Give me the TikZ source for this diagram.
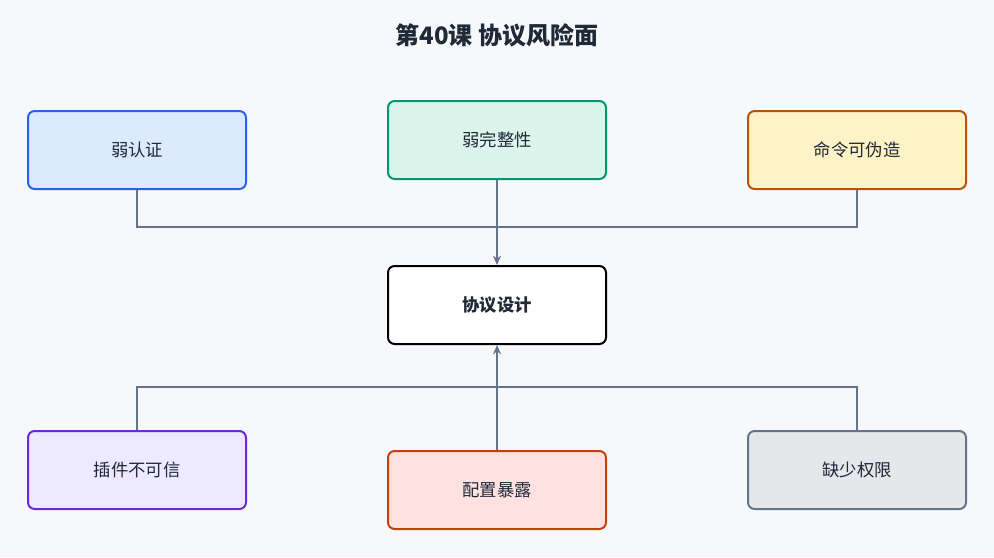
\documentclass[tikz,border=0pt]{standalone}
\usepackage{fontspec}
\setmainfont{Noto Sans CJK SC}
\usetikzlibrary{arrows.meta}
\definecolor{bgc}{HTML}{F7F8FB}
\definecolor{linec}{HTML}{64748B}
\definecolor{textc}{HTML}{1F2937}
\definecolor{blueD}{HTML}{2563EB}\definecolor{blueF}{HTML}{DBEAFE}
\definecolor{greenD}{HTML}{059669}\definecolor{greenF}{HTML}{DCF5EC}
\definecolor{orangeD}{HTML}{B45309}\definecolor{orangeF}{HTML}{FEF3C7}
\definecolor{purpleD}{HTML}{6D28D9}\definecolor{purpleF}{HTML}{EDE9FE}
\definecolor{redD}{HTML}{C2410C}\definecolor{redF}{HTML}{FEE2E2}
\definecolor{grayD}{HTML}{64748B}\definecolor{grayF}{HTML}{E5E7EB}
\tikzset{
  box/.style={draw, line width=1.5pt, rounded corners=5pt, minimum width=163.5pt, minimum height=58.5pt, font=\fontsize{13}{15}\selectfont, text=textc},
  conn/.style={draw=linec, line width=1.3pt},
}
\begin{document}
\begin{tikzpicture}[x=0.75pt,y=0.75pt,yscale=-1,xscale=1]
\fill[bgc] (0,0) rectangle (994,557);
\useasboundingbox (0,0) rectangle (994,557);

% Title
\node (title) at (497,35) {\fontsize{18}{20}\selectfont\bfseries\color{textc}第40课 协议风险面};

% Boxes
\node[box, draw=blueD, fill=blueF] (auth) at (137,150) {弱认证};
\node[box, draw=greenD, fill=greenF] (integ) at (497,140) {弱完整性};
\node[box, draw=orangeD, fill=orangeF] (forge) at (857,150) {命令可伪造};
\node[box, draw=black, fill=white, font=\fontsize{13}{15}\selectfont\bfseries] (proto) at (497,305) {协议设计};
\node[box, draw=purpleD, fill=purpleF] (plugin) at (137,470) {插件不可信};
\node[box, draw=redD, fill=redF] (config) at (497,490) {配置暴露};
\node[box, draw=grayD, fill=grayF] (perm) at (857,470) {缺少权限};

% Connectors
\coordinate (top) at (497,227);
\coordinate (bot) at (497,387);
\draw[conn] (auth.south) |- (top) -| (forge.south);
\draw[conn, -{Stealth[length=7pt,width=6pt]}] (integ.south) -- (proto.north);
\draw[conn] (plugin.north) |- (bot) -| (perm.north);
\draw[conn, -{Stealth[length=7pt,width=6pt]}] (config.north) -- (proto.south);
\end{tikzpicture}
\end{document}
